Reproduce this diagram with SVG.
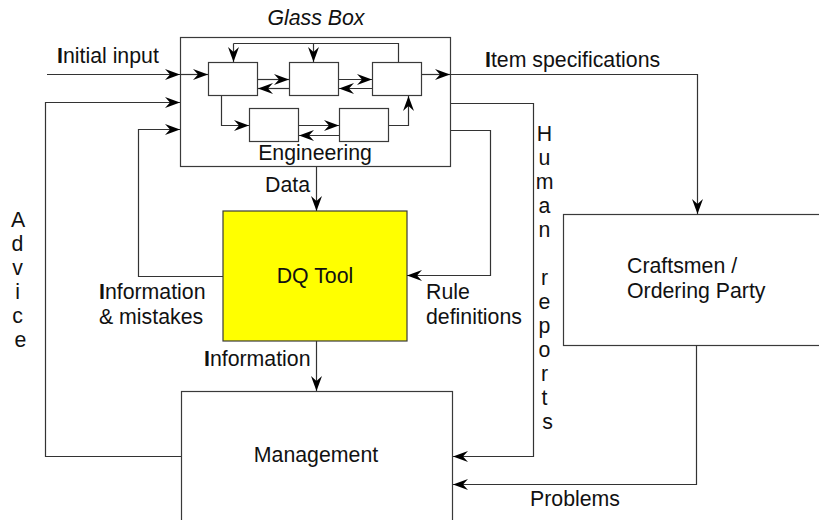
<svg xmlns="http://www.w3.org/2000/svg" width="819" height="520" viewBox="0 0 819 520">
  <style>
    .box { fill: #ffffff; stroke: #3a3a3a; stroke-width: 1.2; }
    .dq { fill: #ffff00; stroke: #3a3a3a; stroke-width: 1.2; }
    .wire { fill: none; stroke: #333333; stroke-width: 1.2; marker-end: url(#head); }
    .plain { fill: none; stroke: #333333; stroke-width: 1.2; }
    text { font-family: "Liberation Sans", Arial, sans-serif; font-size: 21.3px; fill: #111111; }
    .mid { text-anchor: middle; }
    .b { font-weight: bold; }
  </style>
  <defs>
    <marker id="head" markerUnits="userSpaceOnUse" markerWidth="16" markerHeight="12" viewBox="0 0 16 12" refX="15" refY="6" orient="auto">
      <path d="M0,0.5 L15,6 L0,11.5 L5,6 Z" fill="#000000"/>
    </marker>
  </defs>

  <!-- Glass box with the engineering process inside -->
  <g id="glass-box">
    <rect class="box" x="180.5" y="37.5" width="270" height="129"/>
    <text x="316" y="25" class="mid" font-style="italic">Glass Box</text>
    <text x="315" y="160" class="mid">Engineering</text>
  </g>
  <g id="step-1"><rect class="box" x="208.5" y="62.5" width="49" height="33"/></g>
  <g id="step-2"><rect class="box" x="289.5" y="62.5" width="49" height="33"/></g>
  <g id="step-3"><rect class="box" x="372.5" y="62.5" width="49" height="33"/></g>
  <g id="step-4"><rect class="box" x="249.5" y="108.5" width="49" height="33"/></g>
  <g id="step-5"><rect class="box" x="339.5" y="108.5" width="49" height="33"/></g>

  <g id="dq-tool">
    <rect class="dq" x="223" y="211" width="184" height="130"/>
    <text x="315" y="283" class="mid">DQ Tool</text>
  </g>

  <g id="management">
    <rect class="box" x="181.5" y="391.5" width="271" height="140"/>
    <text x="316" y="462" class="mid">Management</text>
  </g>

  <g id="craftsmen">
    <rect class="box" x="563.5" y="214.5" width="270" height="131"/>
    <text x="627" y="273">Craftsmen /</text>
    <text x="627" y="298">Ordering Party</text>
  </g>

  <!-- Connectors -->
  <g id="connectors">
    <!-- inside the glass box -->
    <path class="plain" d="M398.5,62 V43.5 H233.5"/>
    <path class="wire" d="M233.5,43.5 V62"/>
    <path class="wire" d="M313.5,43.5 V62"/>
    <path class="wire" d="M258,79.5 H289"/>
    <path class="wire" d="M289,88.5 H258"/>
    <path class="wire" d="M339,79.5 H372"/>
    <path class="wire" d="M372,88.5 H339"/>
    <path class="wire" d="M221.5,96 V125.5 H249"/>
    <path class="wire" d="M299,125.5 H339"/>
    <path class="wire" d="M339,135.5 H299"/>
    <path class="wire" d="M389,125.5 H408.5 V96"/>
    <path class="wire" d="M180,74.5 H208"/>

    <!-- initial input -->
    <path class="wire" d="M47,74.5 H180"/>
    <!-- item specifications -->
    <path class="wire" d="M422,74.5 H450"/>
    <path class="wire" d="M450,74.5 H697.5 V214"/>
    <!-- advice -->
    <path class="wire" d="M181,456.5 H45.5 V102.5 H180"/>
    <!-- information & mistakes -->
    <path class="wire" d="M223,276.5 H138.5 V129.5 H180"/>
    <!-- data -->
    <path class="wire" d="M316.5,167 V211"/>
    <!-- information -->
    <path class="wire" d="M316.5,341 V391"/>
    <!-- rule definitions -->
    <path class="wire" d="M451,130.5 H490.5 V275.5 H407"/>
    <!-- human reports -->
    <path class="wire" d="M451,103.5 H533.5 V456.5 H453"/>
    <!-- problems -->
    <path class="wire" d="M696.5,345 V484.5 H453"/>
  </g>

  <!-- Connector labels -->
  <g id="labels">
    <text x="57" y="63"><tspan class="b">I</tspan>nitial input</text>
    <text x="485" y="67"><tspan class="b">I</tspan>tem specifications</text>
    <text x="265" y="192">Data</text>
    <text x="99" y="299"><tspan class="b">I</tspan>nformation</text>
    <text x="99" y="324">&amp; mistakes</text>
    <text x="426" y="299">Rule</text>
    <text x="426" y="324">definitions</text>
    <text x="204" y="366"><tspan class="b">I</tspan>nformation</text>
    <text x="530" y="506">Problems</text>
    <text class="mid" x="20.5">
      <tspan x="20.5" y="227">A</tspan>
      <tspan x="20.5" y="251">d</tspan>
      <tspan x="20.5" y="275">v</tspan>
      <tspan x="20.5" y="299">i</tspan>
      <tspan x="20.5" y="323">c</tspan>
      <tspan x="20.5" y="347">e</tspan>
    </text>
    <text class="mid" x="547.5">
      <tspan x="547.5" y="141">H</tspan>
      <tspan x="547.5" y="165">u</tspan>
      <tspan x="547.5" y="189">m</tspan>
      <tspan x="547.5" y="213">a</tspan>
      <tspan x="547.5" y="237">n</tspan>
      <tspan x="547.5" y="285">r</tspan>
      <tspan x="547.5" y="309">e</tspan>
      <tspan x="547.5" y="333">p</tspan>
      <tspan x="547.5" y="357">o</tspan>
      <tspan x="547.5" y="381">r</tspan>
      <tspan x="547.5" y="405">t</tspan>
      <tspan x="547.5" y="429">s</tspan>
    </text>
  </g>
</svg>
